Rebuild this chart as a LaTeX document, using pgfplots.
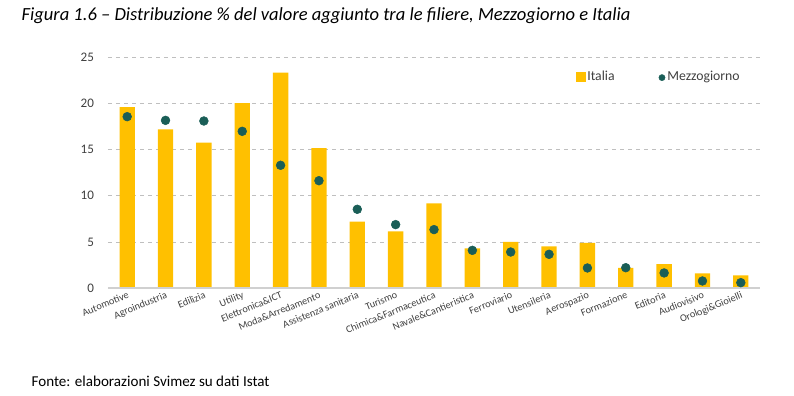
\documentclass[border=0pt]{standalone}
\usepackage{fontspec}
\setmainfont{Carlito}
\usepackage{pgfplots}
\pgfplotsset{compat=1.18}
\definecolor{gialloI}{HTML}{FFC000}
\definecolor{verdeM}{HTML}{1A5E57}
\definecolor{griglia}{HTML}{BFBFBF}
\definecolor{asse}{HTML}{D0D0D0}
\definecolor{testo}{HTML}{404040}
\begin{document}
\begin{tikzpicture}
\path[use as bounding box] (0pt,0pt) rectangle (595.5pt,297pt);
\node[anchor=west,font=\itshape\fontsize{13.9}{15}\selectfont,text=black,inner sep=0] at (16pt,285.5pt) {Figura 1.6 -- Distribuzione \% del valore aggiunto tra le filiere, Mezzogiorno e Italia};
\node[anchor=west,font=\fontsize{11.3}{13}\selectfont,text=black,inner sep=0] at (23.5pt,11.3pt) {Fonte: elaborazioni Svimez su dati Istat};
\begin{axis}[
  at={(81pt,81pt)}, anchor=south west,
  scale only axis, width=489pt, height=173pt,
  xmin=-0.5, xmax=16.5, ymin=0, ymax=25,
  axis line style={draw=none},
  ytick={0,5,...,25},
  ymajorgrids, grid style={griglia, dashed, line width=0.5pt},
  major tick length=0pt,
  xtick={0,...,16},
  xticklabels={Automotive,Agroindustria,Edilizia,Utility,Elettronica\&ICT,Moda\&Arredamento,Assistenza sanitaria,Turismo,Chimica\&Farmaceutica,Navale\&Cantieristica,Ferroviario,Utensileria,Aerospazio,Formazione,Editoria,Audiovisivo,Orologi\&Gioielli},
  xticklabel style={rotate=22, anchor=north east, font=\fontsize{7.7}{9}\selectfont, text=testo, inner sep=1pt, yshift=-1pt},
  yticklabel style={font=\fontsize{9.8}{11}\selectfont, text=testo, xshift=-7pt},
  /pgf/number format/assume math mode=true,
  legend style={draw=none, fill=none, at={(0.712,0.915)}, anchor=west, font=\fontsize{10.3}{12}\selectfont, text=testo, legend columns=2, /tikz/every even column/.append style={column sep=31.5pt}, nodes={inner sep=1.5pt}},
  legend cell align=left,
  clip=false,
]
\addplot[ybar, bar width=11.5pt, fill=gialloI, draw=none, forget plot] coordinates {
(0,19.6) (1,17.2) (2,15.75) (3,20.05) (4,23.35) (5,15.17) (6,7.19) (7,6.14) (8,9.18) (9,4.3) (10,4.99) (11,4.52) (12,4.88) (13,2.17) (14,2.6) (15,1.59) (16,1.37)};
\addlegendimage{legend image code/.code={\fill[gialloI] (0.20cm,-3pt) rectangle (0.20cm+6.2pt,3.2pt);}}
\addlegendentry{Italia}
\addplot[only marks, mark=*, mark size=3.3pt, mark options={fill=verdeM, draw=verdeM}, forget plot] coordinates {
(0,18.57) (1,18.17) (2,18.1) (3,16.98) (4,13.3) (5,11.63) (6,8.53) (7,6.87) (8,6.33) (9,4.08) (10,3.9) (11,3.65) (12,2.17) (13,2.2) (14,1.63) (15,0.76) (16,0.58)};
\addlegendimage{legend image code/.code={\fill[verdeM] (0.40cm,-0.5pt) circle (2.3pt);}}
\addlegendentry{Mezzogiorno}
\draw[asse, line width=0.8pt] (axis cs:-0.5,0) -- (axis cs:16.5,0);
\end{axis}
\end{tikzpicture}
\end{document}
